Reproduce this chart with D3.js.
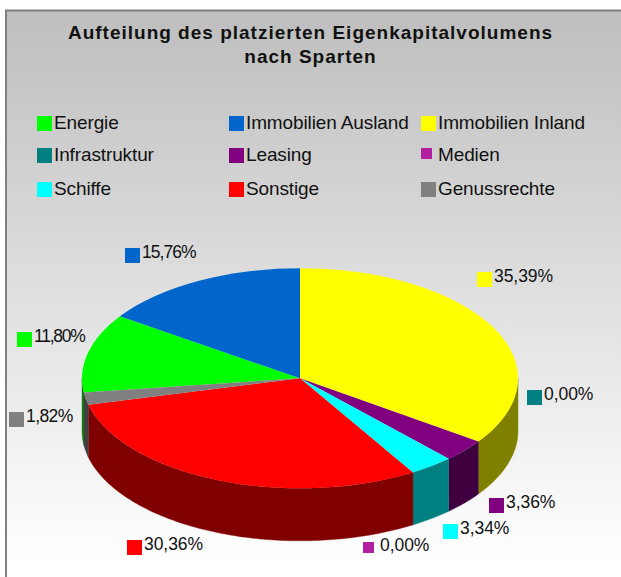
<!DOCTYPE html>
<html><head><meta charset="utf-8">
<script src="https://d3js.org/d3.v7.min.js"></script>
<style>html,body{margin:0;padding:0;background:#fff}svg{display:block}text{font-family:"Liberation Sans",Arial,sans-serif;fill:#111}</style>
</head><body><div id="c"></div>
<script>
const titleLines = ["Aufteilung des platzierten Eigenkapitalvolumens", "nach Sparten"];
const categories = ["Energie","Immobilien Ausland","Immobilien Inland","Infrastruktur","Leasing","Medien","Schiffe","Sonstige","Genussrechte"];
const values = [11.80,15.76,35.39,0.00,3.36,0.00,3.34,30.36,1.82];
const colors = ["#00ff00","#0066cc","#ffff00","#008080","#800080","#b2209f","#00ffff","#ff0000","#808080"];
const sideColors = ["#008000","#003366","#808000","#004040","#400040","#591050","#008080","#800000","#404040"];
const labelAnchors = [[17,332],[125,248],[477,272],[527,390],[489,498],[363,542],[443,524],[127,540],[9,412]];
const labelSpacing = [-1.25,-0.95,-0.05,-0.05,-0.05,-0.05,-0.05,-0.05,-0.6];
const legendCols = [0,1,2], legendRows = [0,1,2];

const W=621,H=577,cx=300,cy=378.3,rx=218,ry=110,depth=52.5;
const svg=d3.select("#c").append("svg").attr("width",W).attr("height",H);
const defs=svg.append("defs");
const g=defs.append("linearGradient").attr("id","bg").attr("gradientUnits","userSpaceOnUse").attr("x1",0).attr("x2",0).attr("y1",11).attr("y2",560);
g.append("stop").attr("offset",0).attr("stop-color","#bebebe");
g.append("stop").attr("offset",1).attr("stop-color","#ffffff");
svg.append("rect").attr("x",6).attr("y",10.5).attr("width",W+20).attr("height",H-5)
  .attr("fill","url(#bg)").attr("stroke","#808080").attr("stroke-width",2);

svg.selectAll("text.title").data(titleLines).join("text").attr("class","title")
  .attr("x",310.5).attr("y",(d,i)=>39+i*23.5).attr("text-anchor","middle")
  .attr("font-size",19).attr("font-weight","bold").attr("letter-spacing",1.0).text(d=>d);

// legend
const lx=d3.scalePoint().domain(legendCols).range([37,421]);
const ly=d3.scaleOrdinal().domain(legendRows).range([116,148,182]);
const leg=svg.selectAll("g.leg").data(categories).join("g").attr("class","leg")
  .attr("transform",(d,i)=>`translate(${lx(i%3)},${ly(Math.floor(i/3))})`);
leg.append("rect").attr("width",(d,i)=>i===5?11:15).attr("height",(d,i)=>i===5?11:15)
  .attr("fill",(d,i)=>colors[i]);
leg.append("text").attr("x",17).attr("y",13).attr("font-size",19).attr("letter-spacing",-0.12).text(d=>d);

// pie
const total=d3.sum(values);
const start=2*Math.PI-(values[0]+values[1])/total*2*Math.PI;
const pie=d3.pie().sort(null).value(d=>d).startAngle(start).endAngle(start+2*Math.PI);
const arcs=pie(values);
const sx=d3.scaleLinear().domain([-1,1]).range([cx-rx,cx+rx]);
const sy=d3.scaleLinear().domain([-1,1]).range([cy-ry,cy+ry]);
const sideLine=d3.line().x(d=>sx(Math.sin(d.a))).y(d=>sy(-Math.cos(d.a))+d.o);
const sides=svg.append("g");
arcs.forEach((a,i)=>{
  [0,1,2].forEach(k=>{
    const lo=Math.max(a.startAngle,Math.PI/2+2*Math.PI*k), hi=Math.min(a.endAngle,1.5*Math.PI+2*Math.PI*k);
    if(hi<=lo) return;
    const n=Math.max(2,Math.ceil((hi-lo)*60));
    const ang=d3.range(n+1).map(j=>lo+(hi-lo)*j/n);
    const pts=ang.map(t=>({a:t,o:0})).concat(ang.slice().reverse().map(t=>({a:t,o:depth})));
    sides.append("path").attr("d",sideLine(pts)+"Z").attr("fill",sideColors[i]).attr("stroke",sideColors[i]).attr("stroke-width",0.4);
  });
});
const arcGen=d3.arc().innerRadius(0).outerRadius(rx);
svg.append("g").attr("transform",`translate(${cx},${cy}) scale(1,${ry/rx})`)
  .selectAll("path").data(arcs).join("path").attr("d",arcGen).attr("fill",(d,i)=>colors[i]);

// data labels
const fmt=v=>v.toFixed(2).replace(".",",")+"%";
const lab=svg.selectAll("g.lab").data(values).join("g").attr("class","lab")
  .attr("transform",(d,i)=>`translate(${labelAnchors[i][0]},${labelAnchors[i][1]})`);
lab.append("rect").attr("width",(d,i)=>i===5?11:15).attr("height",(d,i)=>i===5?11:15).attr("fill",(d,i)=>colors[i]);
lab.append("text").attr("x",17).attr("y",(d,i)=>i===5?9:10).attr("font-size",17.5).attr("letter-spacing",(d,i)=>labelSpacing[i]).text(d=>fmt(d));
</script></body></html>
